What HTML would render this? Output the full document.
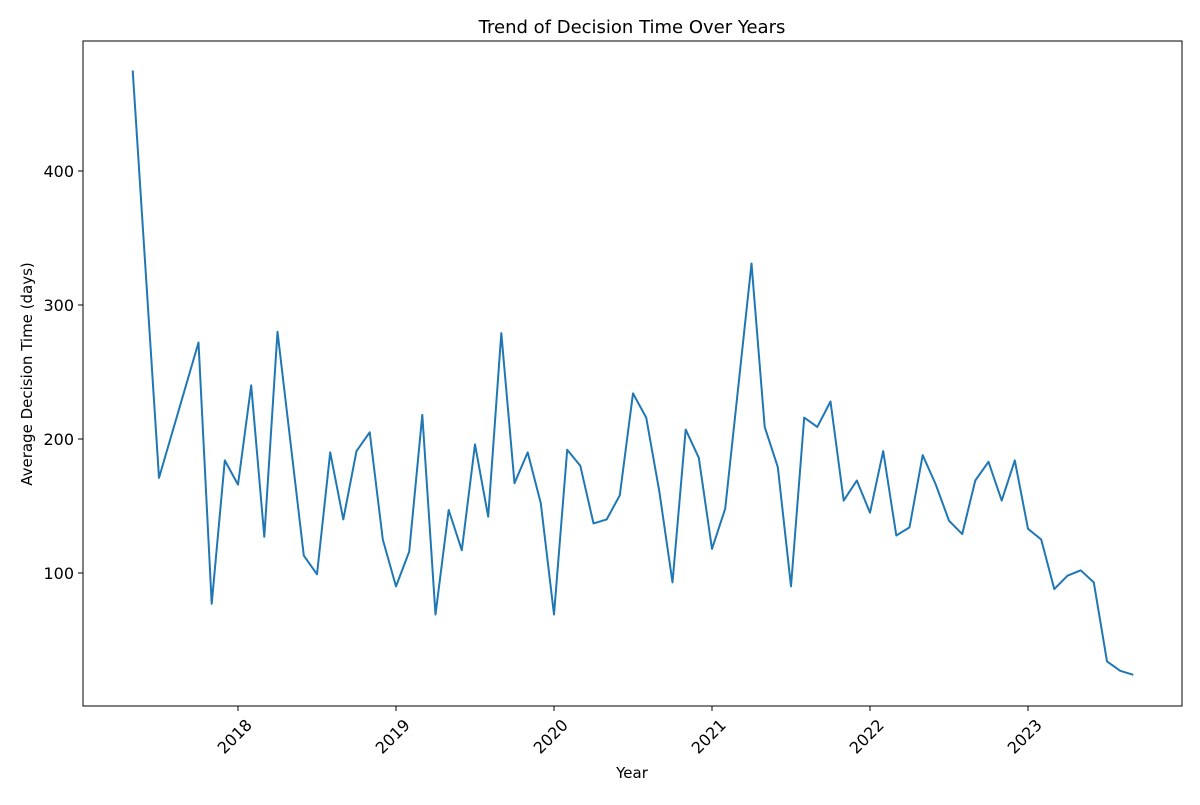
<!DOCTYPE html>
<html><head><meta charset="utf-8"><style>
body{margin:0;background:#fff;}
svg{font-family:"DejaVu Sans","Liberation Sans",sans-serif;}
</style></head><body>
<svg id="chart" width="1200" height="800" viewBox="0 0 1200 800">
<rect width="1200" height="800" fill="#fff"/>
<text x="632" y="33" font-size="18" text-anchor="middle">Trend of Decision Time Over Years</text>
<g id="marks"></g>
<rect x="83" y="41" width="1099" height="665" fill="none" stroke="#000" stroke-width="1"/>
<text x="632" y="778" font-size="15" text-anchor="middle">Year</text>
<text transform="translate(32,374) rotate(-90)" font-size="15" text-anchor="middle">Average Decision Time (days)</text>
</svg>
<script>
// months as [year, month]
const dates = [[2017,5],[2017,7],[2017,10],[2017,11],[2017,12],[2018,1],[2018,2],[2018,3],[2018,4],[2018,6],[2018,7],[2018,8],[2018,9],[2018,10],[2018,11],[2018,12],
[2019,1],[2019,2],[2019,3],[2019,4],[2019,5],[2019,6],[2019,7],[2019,8],[2019,9],[2019,10],[2019,11],[2019,12],
[2020,1],[2020,2],[2020,3],[2020,4],[2020,5],[2020,6],[2020,7],[2020,8],[2020,9],[2020,10],[2020,11],[2020,12],
[2021,1],[2021,2],[2021,4],[2021,5],[2021,6],[2021,7],[2021,8],[2021,9],[2021,10],[2021,11],[2021,12],
[2022,1],[2022,2],[2022,3],[2022,4],[2022,5],[2022,6],[2022,7],[2022,8],[2022,9],[2022,10],[2022,11],[2022,12],
[2023,1],[2023,2],[2023,3],[2023,4],[2023,5],[2023,6],[2023,7],[2023,8],[2023,9]];
const values = [475,171,272,77,184,166,240,127,280,113,99,190,140,191,205,125,
90,116,218,69,147,117,196,142,279,167,190,152,
69,192,180,137,140,158,234,216,161,93,207,186,
118,148,331,209,179,90,216,209,228,154,169,
145,191,128,134,188,166,139,129,169,183,154,184,
133,125,88,98,102,93,34,27,24];
const xTicks = [2018,2019,2020,2021,2022,2023];
const yTicks = [100,200,300,400];

const NS="http://www.w3.org/2000/svg";
const xScale = t => 238 + (t-2018)*158;
const yScale = v => 707 - v*1.34;
const g = document.getElementById('marks');
function mk(tag, attrs){const e=document.createElementNS(NS,tag);for(const k in attrs)e.setAttribute(k,attrs[k]);return e;}

xTicks.forEach(t=>{
  const x=xScale(t);
  const tk=mk('line',{x1:x,x2:x,y1:706,y2:711,stroke:'#000'});
  
  
  g.appendChild(tk);
  const lb=mk('text',{'font-size':16,'text-anchor':'end',transform:`translate(${x+15},${726}) rotate(-45)`});
  
  
  lb.textContent=t;
  g.appendChild(lb);
});
yTicks.forEach(v=>{
  const y=yScale(v);
  const tk=mk('line',{x1:78,x2:83,y1:y,y2:y,stroke:'#000'});
  
  
  g.appendChild(tk);
  const lb=mk('text',{x:74,y:y+6,'font-size':16,'text-anchor':'end'});
  
  
  lb.textContent=v;
  g.appendChild(lb);
});
const pts = dates.map((d,i)=>xScale(d[0]+(d[1]-1)/12).toFixed(1)+','+yScale(values[i]).toFixed(1)).join(' ');
const line = mk('polyline',{points:pts,fill:'none',stroke:'#1f77b4','stroke-width':2,'stroke-linejoin':'round'});


g.appendChild(line);
</script>
</body></html>
